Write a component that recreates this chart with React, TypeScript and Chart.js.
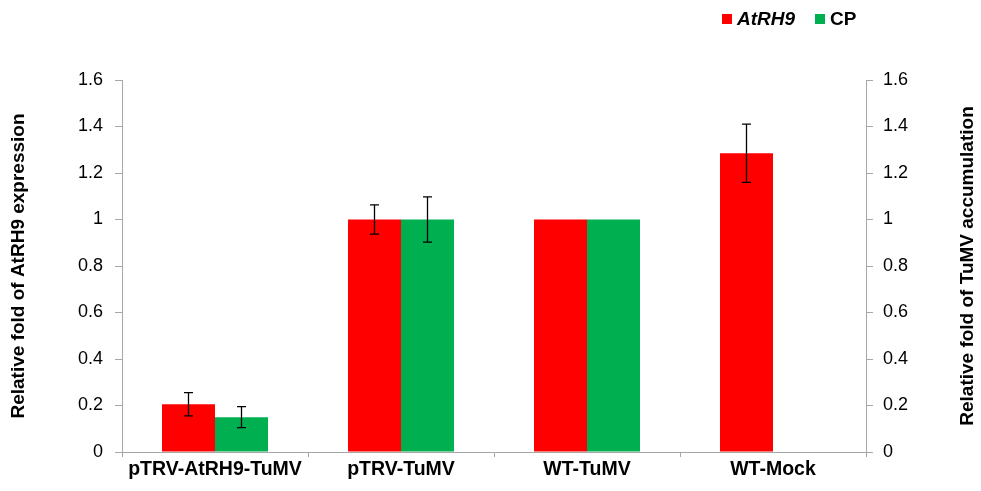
import { useEffect, useRef } from "react";
import { Chart, registerables } from "chart.js";
Chart.register(...registerables);

const categories = ["pTRV-AtRH9-TuMV", "pTRV-TuMV", "WT-TuMV", "WT-Mock"];
const atrh9Values = [0.205, 1.0, 1.0, 1.285];
const atrh9Errors: (number | null)[] = [0.05, 0.063, null, 0.125];
const cpValues: (number | null)[] = [0.15, 1.0, 1.0, null];
const cpErrors: (number | null)[] = [0.045, 0.097, null, null];
const yMin = 0;
const yMax = 1.6;
const yStep = 0.2;
const leftTitle = "Relative fold of AtRH9 expression";
const rightTitle = "Relative fold of TuMV accumulation";

const FONT = "'Liberation Sans', Arial, sans-serif";
const RED = "#FF0000";
const GREEN = "#00B050";
const AXIS = "#A6A6A6";

const errorBarPlugin = {
  id: "errorBars",
  afterDatasetsDraw(chart: any) {
    const ctx = chart.ctx;
    chart.data.datasets.forEach((ds: any, i: number) => {
      const meta = chart.getDatasetMeta(i);
      const scale = chart.scales[ds.yAxisID];
      const errs: (number | null)[] = ds.errors || [];
      meta.data.forEach((bar: any, j: number) => {
        const v = ds.data[j];
        const e = errs[j];
        if (v == null || e == null) return;
        const x = bar.x;
        const yt = scale.getPixelForValue(v + e);
        const yb = scale.getPixelForValue(v - e);
        ctx.save();
        ctx.strokeStyle = "#000";
        ctx.lineWidth = 1.3;
        ctx.beginPath();
        ctx.moveTo(x, yt);
        ctx.lineTo(x, yb);
        ctx.moveTo(x - 4.5, yt);
        ctx.lineTo(x + 4.5, yt);
        ctx.moveTo(x - 4.5, yb);
        ctx.lineTo(x + 4.5, yb);
        ctx.stroke();
        ctx.restore();
      });
    });
  },
};

// Right axis title reading bottom-to-top, like the original
const rightTitlePlugin = {
  id: "rightTitle",
  afterDraw(chart: any) {
    const ctx = chart.ctx;
    const s = chart.scales.y1;
    const cy = (chart.chartArea.top + chart.chartArea.bottom) / 2;
    ctx.save();
    ctx.translate(s.right - 13, cy);
    ctx.rotate(-Math.PI / 2);
    ctx.font = `bold 19px ${FONT}`;
    ctx.fillStyle = "#000";
    ctx.textAlign = "center";
    ctx.textBaseline = "middle";
    ctx.fillText(rightTitle, 0, 0);
    ctx.restore();
  },
};

const fmt = (v: any) => String(Number(Number(v).toFixed(1)));

export default function App() {
  const ref = useRef<HTMLCanvasElement>(null);
  useEffect(() => {
    if (!ref.current) return;
    const chart = new Chart(ref.current, {
      type: "bar",
      data: {
        labels: categories,
        datasets: [
          {
            label: "AtRH9",
            data: atrh9Values,
            backgroundColor: RED,
            yAxisID: "y",
            errors: atrh9Errors,
            categoryPercentage: 0.57,
            barPercentage: 1,
          } as any,
          {
            label: "CP",
            data: cpValues,
            backgroundColor: GREEN,
            yAxisID: "y1",
            errors: cpErrors,
            categoryPercentage: 0.57,
            barPercentage: 1,
          } as any,
        ],
      },
      options: {
        animation: false,
        responsive: true,
        maintainAspectRatio: false,
        layout: { padding: { top: 80, right: 0, left: 0, bottom: 0 } },
        plugins: { legend: { display: false }, tooltip: { enabled: false } },
        scales: {
          x: {
            grid: { display: true, drawOnChartArea: false, drawTicks: true, tickLength: 5, color: AXIS, offset: true },
            border: { display: true, color: AXIS },
            ticks: { color: "#000", font: { family: FONT, size: 19.5, weight: "bold" }, padding: 1, maxRotation: 0 },
            afterFit: (s: any) => { s.height = 39; },
          },
          y: {
            position: "left",
            min: yMin,
            max: yMax,
            ticks: { stepSize: yStep, color: "#000", font: { family: FONT, size: 18 }, padding: 12, callback: fmt },
            grid: { display: true, drawOnChartArea: false, drawTicks: true, tickLength: 7, color: AXIS },
            border: { display: true, color: AXIS },
            title: { display: true, text: leftTitle, color: "#000", font: { family: FONT, size: 19, weight: "bold" }, padding: { top: 7, bottom: 0 } },
            afterFit: (s: any) => { s.width = 122; },
          },
          y1: {
            position: "right",
            min: yMin,
            max: yMax,
            ticks: { stepSize: yStep, color: "#000", font: { family: FONT, size: 18 }, padding: 10, callback: fmt },
            grid: { display: true, drawOnChartArea: false, drawTicks: true, tickLength: 7, color: AXIS },
            border: { display: true, color: AXIS },
            title: { display: false },
            afterFit: (s: any) => { s.width = 115; },
          },
        },
      } as any,
      plugins: [errorBarPlugin, rightTitlePlugin],
    });
    return () => chart.destroy();
  }, []);

  const sq = (c: string) => ({ display: "inline-block", width: 10, height: 10, background: c, marginRight: 5 });
  return (
    <div style={{ position: "fixed", left: 0, top: 0, width: 981, height: 491, background: "#fff" }}>
      <canvas ref={ref} />
      <div style={{ position: "absolute", left: 722, top: 8, fontFamily: FONT, fontSize: 19, fontWeight: "bold", color: "#000", display: "flex", alignItems: "center", whiteSpace: "nowrap" }}>
        <span style={sq(RED)} />
        <span style={{ fontStyle: "italic", marginRight: 20 }}>AtRH9</span>
        <span style={sq(GREEN)} />
        <span>CP</span>
      </div>
    </div>
  );
}
